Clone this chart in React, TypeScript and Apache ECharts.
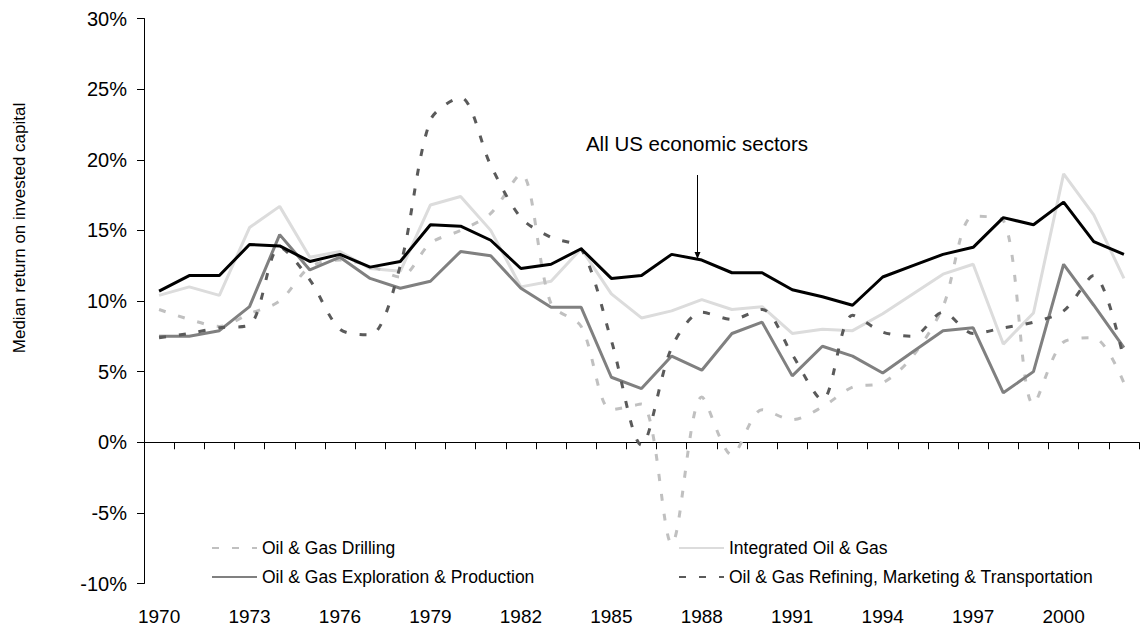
import React, { useEffect, useRef } from "react";
import * as echarts from "echarts";

const years = [
  "1970", "1971", "1972", "1973", "1974", "1975", "1976", "1977", "1978", "1979",
  "1980", "1981", "1982", "1983", "1984", "1985", "1986", "1987", "1988", "1989",
  "1990", "1991", "1992", "1993", "1994", "1995", "1996", "1997", "1998", "1999",
  "2000", "2001", "2002",
];

const allUS = [
  10.7, 11.8, 11.8, 14.0, 13.9, 12.8, 13.3, 12.4, 12.8, 15.4,
  15.3, 14.3, 12.3, 12.6, 13.7, 11.6, 11.8, 13.3, 12.9, 12.0,
  12.0, 10.8, 10.3, 9.7, 11.7, 12.5, 13.3, 13.8, 15.9, 15.4,
  17.0, 14.2, 13.3,
];

const integrated = [
  10.4, 11.0, 10.4, 15.2, 16.7, 13.1, 13.5, 12.3, 12.1, 16.8,
  17.4, 15.0, 11.0, 11.4, 13.7, 10.5, 8.8, 9.3, 10.1, 9.4,
  9.6, 7.7, 8.0, 7.9, 9.1, 10.5, 11.9, 12.6, 6.95, 9.15,
  19.0, 16.1, 11.6,
];

const exploration = [
  7.5, 7.5, 7.9, 9.6, 14.7, 12.2, 13.1, 11.6, 10.9, 11.4,
  13.5, 13.2, 10.9, 9.55, 9.55, 4.6, 3.8, 6.1, 5.1, 7.7,
  8.5, 4.7, 6.8, 6.1, 4.9, 6.4, 7.9, 8.1, 3.5, 5.0,
  12.6, 9.7, 6.7,
];

const drilling = [
  9.4, 8.7, 8.2, 9.1, 10.0, 12.4, 12.9, 12.5, 11.7, 14.1,
  15.0, 16.2, 19.0, 9.8, 8.2, 2.3, 2.7, -7.2, 3.2, -0.9,
  2.3, 1.6, 2.5, 3.9, 4.2, 6.1, 9.6, 16.0, 15.7, 2.7,
  7.1, 7.4, 4.2,
];

const refining = [
  7.4, 7.7, 8.1, 8.3, 13.8, 11.5, 8.0, 7.6, 12.5, 22.8,
  24.4, 19.6, 15.9, 14.5, 13.7, 7.2, -0.2, 6.7, 9.2, 8.7,
  9.4, 6.2, 3.0, 9.0, 7.8, 7.5, 9.2, 7.7, 8.1, 8.5,
  9.3, 11.8, 5.8,
];

const names = {
  drilling: "Oil & Gas Drilling",
  integrated: "Integrated Oil & Gas",
  exploration: "Oil & Gas Exploration & Production",
  refining: "Oil & Gas Refining, Marketing & Transportation",
  allUS: "All US economic sectors",
};

const FONT = "'Liberation Sans', Arial, sans-serif";

export default function App() {
  const ref = useRef<HTMLDivElement>(null);

  useEffect(() => {
    if (!ref.current) return;
    const chart = echarts.init(ref.current, undefined, { renderer: "svg" });

    const legendBase = {
      orient: "horizontal",
      itemWidth: 45,
      itemHeight: 14,
      itemGap: 0,
      itemStyle: { opacity: 0 },
      textStyle: { fontFamily: FONT, fontSize: 17.5, color: "#000" },
    };

    const dash = [7, 13];

    chart.setOption({
      animation: false,
      backgroundColor: "#fff",
      grid: { left: 144, right: 8, top: 18.5, bottom: 45.5, containLabel: false },
      xAxis: [
        {
          type: "category",
          data: years,
          position: "bottom",
          boundaryGap: true,
          axisLine: { show: false, onZero: false },
          axisTick: { show: false },
          axisLabel: {
            interval: 2,
            margin: 23,
            fontFamily: FONT,
            fontSize: 19,
            color: "#000",
          },
          splitLine: { show: false },
        },
        {
          type: "category",
          data: years,
          position: "top",
          boundaryGap: true,
          axisLine: { show: true, onZero: true, lineStyle: { color: "#000", width: 1 } },
          axisTick: { show: true, inside: true, length: 7, interval: 0, lineStyle: { color: "#000" } },
          axisLabel: { show: false },
          splitLine: { show: false },
        },
      ],
      yAxis: {
        type: "value",
        min: -10,
        max: 30,
        interval: 5,
        axisLine: { show: true, lineStyle: { color: "#000", width: 1 } },
        axisTick: { show: true, length: 7, lineStyle: { color: "#000" } },
        axisLabel: {
          formatter: "{value}%",
          margin: 17,
          fontFamily: FONT,
          fontSize: 20,
          color: "#000",
        },
        splitLine: { show: false },
      },
      legend: [
        { ...legendBase, data: [names.drilling], left: 206, top: 534 },
        { ...legendBase, data: [names.integrated], left: 673, top: 534 },
        { ...legendBase, data: [names.exploration], left: 206, top: 563 },
        { ...legendBase, data: [names.refining], left: 673, top: 563 },
      ],
      series: [
        {
          name: names.integrated,
          type: "line",
          data: integrated,
          showSymbol: false,
          symbol: "none",
          lineStyle: { color: "#dcdcdc", width: 3 },
          itemStyle: { color: "#dcdcdc" },
        },
        {
          name: names.drilling,
          type: "line",
          data: drilling,
          showSymbol: false,
          symbol: "none",
          smooth: 0.3,
          lineStyle: { color: "#c0c0c0", width: 3, type: dash },
          itemStyle: { color: "#c0c0c0" },
        },
        {
          name: names.exploration,
          type: "line",
          data: exploration,
          showSymbol: false,
          symbol: "none",
          lineStyle: { color: "#808080", width: 3 },
          itemStyle: { color: "#808080" },
        },
        {
          name: names.refining,
          type: "line",
          data: refining,
          showSymbol: false,
          symbol: "none",
          smooth: 0.3,
          lineStyle: { color: "#5a5a5a", width: 3, type: dash },
          itemStyle: { color: "#5a5a5a" },
        },
        {
          name: names.allUS,
          type: "line",
          data: allUS,
          showSymbol: false,
          symbol: "none",
          lineStyle: { color: "#000", width: 3 },
          itemStyle: { color: "#000" },
        },
      ],
      graphic: [
        {
          type: "text",
          x: 19,
          y: 228,
          rotation: Math.PI / 2,
          style: {
            text: "Median return on invested capital",
            fontFamily: FONT,
            fontSize: 17,
            fill: "#000",
            align: "center",
            verticalAlign: "middle",
          },
        },
        {
          type: "text",
          x: 697,
          y: 143,
          style: {
            text: names.allUS,
            fontFamily: FONT,
            fontSize: 20.5,
            fill: "#000",
            align: "center",
            verticalAlign: "middle",
          },
        },
        {
          type: "line",
          shape: { x1: 697.5, y1: 175, x2: 697.5, y2: 254 },
          style: { stroke: "#000", lineWidth: 1 },
        },
        {
          type: "polygon",
          shape: { points: [[694.5, 252], [700.5, 252], [697.5, 259]] },
          style: { fill: "#000" },
        },
      ],
    });

    return () => chart.dispose();
  }, []);

  return (
    <div
      ref={ref}
      style={{ position: "fixed", left: 0, top: 0, width: 1147, height: 629, background: "#fff" }}
    />
  );
}
